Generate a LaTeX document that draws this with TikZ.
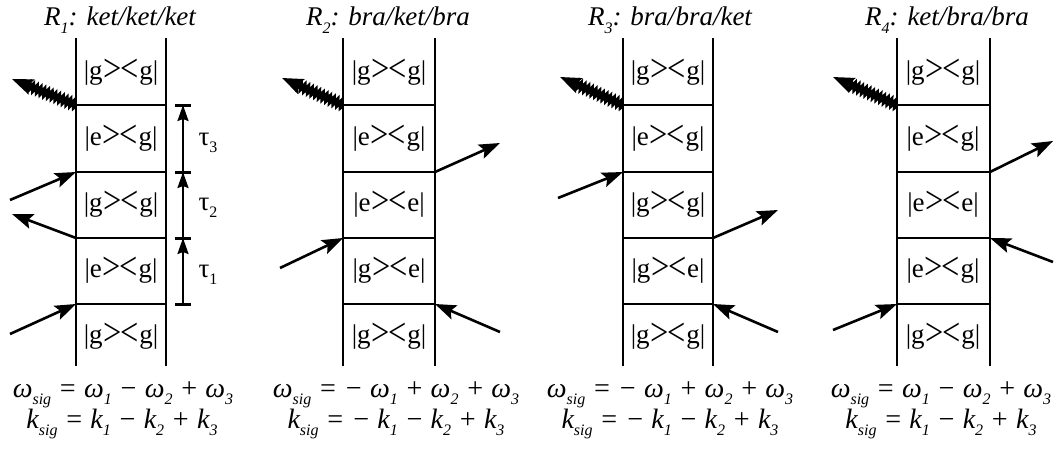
\documentclass[tikz,border=0pt]{standalone}
\usepackage{fontspec}
\setmainfont{Liberation Serif}
\usepackage{graphicx}
\usetikzlibrary{arrows.meta,decorations.pathmorphing}

\newcommand{\lowsub}[1]{\raisebox{-0.6ex}{\fontsize{16}{16}\selectfont #1}}
\newcommand{\kb}[2]{|#1\kern1pt\raisebox{-2.5pt}{\scalebox{1.2}[1.45]{>}\kern-1.5pt\scalebox{1.2}[1.45]{<}}\kern0.5pt#2|}

\begin{document}
\begin{tikzpicture}[x=1pt,y=-1pt,
  rail/.style={line width=2.2pt},
  rung/.style={line width=2.6pt},
  cell/.style={font=\fontsize{27}{30}\selectfont},
  beam/.style={line width=2.6pt,-{Stealth[length=21pt,width=15pt,inset=4pt]}},
  signal/.style={line width=3pt,decorate,decoration={snake,amplitude=4pt,segment length=4pt,post length=16pt},-{Stealth[length=21pt,width=16pt,inset=4pt]}},
  delay/.style={line width=2.2pt,-{Stealth[length=16pt,width=11pt,inset=2pt]}},
  tick/.style={line width=3pt},
  title/.style={font=\fontsize{27}{30}\selectfont\itshape},
  eqn/.style={font=\fontsize{28}{30}\selectfont\itshape,anchor=base}]
\useasboundingbox (0,0) rectangle (1060,448);

% ladders
\foreach \i/\xl/\xr in {1/76/166,2/343/435,3/623/713,4/897/990}{
  \draw[rail] (\xl,38) -- (\xl,366) (\xr,38) -- (\xr,366);
  \foreach \k/\y in {1/105,2/172,3/238,4/304}{
    \coordinate (l\i\k) at (\xl,\y); \coordinate (r\i\k) at (\xr,\y);
    \draw[rung] (l\i\k) -- (r\i\k);
  }
}

% R1
\node[title] (head1) at (120,20) {R\lowsub{1}: ket/ket/ket};
\foreach \a/\b [count=\k] in {g/g,e/g,g/g,e/g,g/g} \node[cell] (c1\k) at (121,{72+66*(\k-1)}) {\kb{\a}{\b}};
\coordinate (s1) at (12,79); \draw[signal] (l11) -- (s1);
\coordinate (p1) at (10,200); \draw[beam] (p1) -- (l12);
\coordinate (q1) at (12,214); \draw[beam] (l13) -- (q1);
\coordinate (u1) at (10,334); \draw[beam] (u1) -- (l14);
\foreach \k/\y in {1/105,2/172,3/238,4/304} { \coordinate (t\k) at (183,\y); \draw[tick] (175,\y) -- (191,\y); }
\draw[delay] (t2) -- (t1); \draw[delay] (t3) -- (t2); \draw[delay] (t4) -- (t3);
\node[cell] (tau3) at (208,143) {τ\lowsub{3}};
\node[cell] (tau2) at (208,208) {τ\lowsub{2}};
\node[cell] (tau1) at (208,275) {τ\lowsub{1}};
\node[eqn] (w1) at (123,397) {ω\lowsub{sig} = ω\lowsub{1} − ω\lowsub{2} + ω\lowsub{3}};
\node[eqn] (k1) at (122,428) {k\lowsub{sig} = k\lowsub{1} − k\lowsub{2} + k\lowsub{3}};

% R2
\node[title] (head2) at (388,20) {R\lowsub{2}: bra/ket/bra};
\foreach \a/\b [count=\k] in {g/g,e/g,e/e,g/e,g/g} \node[cell] (c2\k) at (389,{72+66*(\k-1)}) {\kb{\a}{\b}};
\coordinate (s2) at (282,78); \draw[signal] (l21) -- (s2);
\coordinate (q2) at (500,143); \draw[beam] (r22) -- (q2);
\coordinate (p2) at (280,268); \draw[beam] (p2) -- (l23);
\coordinate (u2) at (500,332); \draw[beam] (u2) -- (r24);
\node[eqn] (w2) at (396,397) {ω\lowsub{sig} = − ω\lowsub{1} + ω\lowsub{2} + ω\lowsub{3}};
\node[eqn] (k2) at (396,428) {k\lowsub{sig} = − k\lowsub{1} − k\lowsub{2} + k\lowsub{3}};

% R3
\node[title] (head3) at (670,20) {R\lowsub{3}: bra/bra/ket};
\foreach \a/\b [count=\k] in {g/g,e/g,g/g,g/e,g/g} \node[cell] (c3\k) at (668,{72+66*(\k-1)}) {\kb{\a}{\b}};
\coordinate (s3) at (560,77); \draw[signal] (l31) -- (s3);
\coordinate (p3) at (558,198); \draw[beam] (p3) -- (l32);
\coordinate (q3) at (778,210); \draw[beam] (r33) -- (q3);
\coordinate (u3) at (778,332); \draw[beam] (u3) -- (r34);
\node[eqn] (w3) at (670,397) {ω\lowsub{sig} = − ω\lowsub{1} + ω\lowsub{2} + ω\lowsub{3}};
\node[eqn] (k3) at (670,428) {k\lowsub{sig} = − k\lowsub{1} − k\lowsub{2} + k\lowsub{3}};

% R4
\node[title] (head4) at (947,20) {R\lowsub{4}: ket/bra/bra};
\foreach \a/\b [count=\k] in {g/g,e/g,e/e,e/g,g/g} \node[cell] (c4\k) at (943,{72+66*(\k-1)}) {\kb{\a}{\b}};
\coordinate (s4) at (833,77); \draw[signal] (l41) -- (s4);
\coordinate (q4) at (1053,141); \draw[beam] (r42) -- (q4);
\coordinate (p4) at (1053,262); \draw[beam] (p4) -- (r43);
\coordinate (u4) at (833,330); \draw[beam] (u4) -- (l44);
\node[eqn] (w4) at (941,397) {ω\lowsub{sig} = ω\lowsub{1} − ω\lowsub{2} + ω\lowsub{3}};
\node[eqn] (k4) at (941,428) {k\lowsub{sig} = k\lowsub{1} − k\lowsub{2} + k\lowsub{3}};
\end{tikzpicture}
\end{document}
